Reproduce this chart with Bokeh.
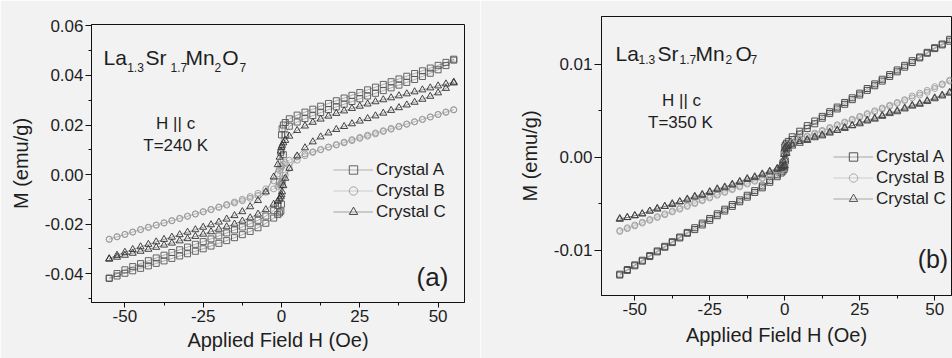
from bokeh.plotting import figure
from bokeh.layouts import row
from bokeh.models import Range1d, FixedTicker, PrintfTickFormatter, Legend, LegendItem, Label
from bokeh.embed import file_html
from bokeh.resources import INLINE

# ---------------- data ----------------
# applied field grid (Oe), shared by every branch
H = [-55, -52.5, -50, -47.5, -45, -42.5, -40, -37.5, -35, -32.5, -30,
     -27.5, -25, -22.5, -20, -17.5, -15, -12.5, -10, -7.5, -5, -2.5,
     -1.2, -0.6, -0.2, 0, 0.2, 0.6, 1.2,
     2.5, 5, 7.5, 10, 12.5, 15, 17.5, 20, 22.5, 25, 27.5,
     30, 32.5, 35, 37.5, 40, 42.5, 45, 47.5, 50, 52.5, 55]

# panel (a): T = 240 K  (ascending / descending field branches)
a_A_up = [-0.0420, -0.0410, -0.0399, -0.0389, -0.0379, -0.0369, -0.0359, -0.0349, -0.0339, -0.0329, -0.0320,
          -0.0310, -0.0300, -0.0289, -0.0278, -0.0267, -0.0255, -0.0243, -0.0230, -0.0215, -0.0197, -0.0176,
          -0.0162, -0.0155, -0.0148, -0.0120, -0.0040, 0.0080, 0.0160,
          0.0195, 0.0212, 0.0226, 0.0238, 0.0250, 0.0262, 0.0273, 0.0284, 0.0295, 0.0306, 0.0317,
          0.0328, 0.0339, 0.0350, 0.0361, 0.0372, 0.0384, 0.0396, 0.0409, 0.0423, 0.0440, 0.0462]
a_A_dn = [-0.0418, -0.0400, -0.0385, -0.0372, -0.0360, -0.0348, -0.0337, -0.0326, -0.0315, -0.0304, -0.0293,
          -0.0282, -0.0271, -0.0260, -0.0248, -0.0236, -0.0224, -0.0212, -0.0199, -0.0185, -0.0168, -0.0146,
          -0.0125, -0.0030, 0.0090, 0.0160, 0.0185, 0.0200, 0.0210,
          0.0225, 0.0240, 0.0252, 0.0264, 0.0276, 0.0287, 0.0298, 0.0309, 0.0320, 0.0331, 0.0342,
          0.0353, 0.0364, 0.0375, 0.0386, 0.0397, 0.0408, 0.0419, 0.0430, 0.0441, 0.0453, 0.0466]
a_B_up = [-0.0262, -0.0252, -0.0242, -0.0233, -0.0223, -0.0214, -0.0205, -0.0196, -0.0187, -0.0178, -0.0169,
          -0.0160, -0.0151, -0.0142, -0.0133, -0.0124, -0.0115, -0.0106, -0.0096, -0.0085, -0.0072, -0.0058,
          -0.0048, -0.0042, -0.0036, -0.0032, -0.0026, -0.0016, -0.0002,
          0.0025, 0.0058, 0.0076, 0.0089, 0.0100, 0.0111, 0.0121, 0.0131, 0.0141, 0.0150, 0.0159,
          0.0168, 0.0177, 0.0186, 0.0195, 0.0204, 0.0213, 0.0222, 0.0232, 0.0242, 0.0251, 0.0261]
a_B_dn = [-0.0261, -0.0251, -0.0242, -0.0232, -0.0222, -0.0213, -0.0204, -0.0195, -0.0186, -0.0177, -0.0168,
          -0.0159, -0.0150, -0.0141, -0.0131, -0.0121, -0.0111, -0.0100, -0.0089, -0.0076, -0.0058, -0.0025,
          0.0002, 0.0016, 0.0026, 0.0032, 0.0036, 0.0042, 0.0048,
          0.0058, 0.0072, 0.0083, 0.0092, 0.0101, 0.0110, 0.0119, 0.0128, 0.0137, 0.0146, 0.0155,
          0.0164, 0.0174, 0.0183, 0.0193, 0.0203, 0.0213, 0.0223, 0.0233, 0.0243, 0.0253, 0.0262]
a_C_up = [-0.0342, -0.0334, -0.0326, -0.0318, -0.0310, -0.0302, -0.0294, -0.0285, -0.0277, -0.0268, -0.0259,
          -0.0250, -0.0241, -0.0231, -0.0221, -0.0211, -0.0200, -0.0188, -0.0175, -0.0160, -0.0142, -0.0120,
          -0.0108, -0.0098, -0.0090, -0.0082, -0.0070, -0.0045, -0.0015,
          0.0025, 0.0075, 0.0108, 0.0132, 0.0152, 0.0168, 0.0182, 0.0194, 0.0205, 0.0216, 0.0226,
          0.0237, 0.0248, 0.0259, 0.0270, 0.0281, 0.0292, 0.0304, 0.0316, 0.0330, 0.0348, 0.0370]
a_C_dn = [-0.0340, -0.0326, -0.0314, -0.0303, -0.0292, -0.0282, -0.0272, -0.0262, -0.0253, -0.0243, -0.0233,
          -0.0223, -0.0213, -0.0203, -0.0192, -0.0180, -0.0166, -0.0150, -0.0130, -0.0105, -0.0070, -0.0010,
          0.0040, 0.0070, 0.0095, 0.0110, 0.0118, 0.0128, 0.0138,
          0.0155, 0.0178, 0.0196, 0.0211, 0.0224, 0.0236, 0.0247, 0.0257, 0.0267, 0.0276, 0.0285,
          0.0294, 0.0302, 0.0310, 0.0318, 0.0326, 0.0334, 0.0342, 0.0350, 0.0358, 0.0366, 0.0373]

# panel (b): T = 350 K
b_A_up = [-0.0127, -0.0122, -0.0117, -0.0112, -0.0107, -0.0102, -0.0097, -0.0092, -0.0087, -0.0082, -0.0078,
          -0.0073, -0.0068, -0.0063, -0.0058, -0.0053, -0.0048, -0.0043, -0.0038, -0.0033, -0.0027, -0.0021,
          -0.0017, -0.0015, -0.0013, -0.0011, -0.0004, 0.0006, 0.0013,
          0.0019, 0.0025, 0.0031, 0.0036, 0.0042, 0.0047, 0.0052, 0.0057, 0.0062, 0.0067, 0.0072,
          0.0077, 0.0082, 0.0087, 0.0092, 0.0097, 0.0102, 0.0107, 0.0112, 0.0117, 0.0121, 0.0125]
b_A_dn = [-0.0126, -0.0121, -0.0116, -0.0111, -0.0106, -0.0101, -0.0096, -0.0091, -0.0086, -0.0081, -0.0076,
          -0.0071, -0.0066, -0.0061, -0.0056, -0.0051, -0.0046, -0.0041, -0.0036, -0.0031, -0.0025, -0.0019,
          -0.0013, -0.0006, 0.0004, 0.0011, 0.0013, 0.0015, 0.0017,
          0.0022, 0.0028, 0.0034, 0.0039, 0.0044, 0.0049, 0.0054, 0.0059, 0.0064, 0.0069, 0.0074,
          0.0079, 0.0084, 0.0089, 0.0094, 0.0099, 0.0104, 0.0108, 0.0113, 0.0118, 0.0122, 0.0127]
b_B_up = [-0.0080, -0.0077, -0.0074, -0.0071, -0.0068, -0.0065, -0.0062, -0.0059, -0.0056, -0.0053, -0.0050,
          -0.0047, -0.0044, -0.0041, -0.0038, -0.0035, -0.0032, -0.0029, -0.0026, -0.0023, -0.0020, -0.0016,
          -0.0014, -0.0013, -0.0012, -0.0010, -0.0004, 0.0004, 0.0010,
          0.0014, 0.0018, 0.0022, 0.0025, 0.0028, 0.0031, 0.0034, 0.0037, 0.0040, 0.0043, 0.0046,
          0.0049, 0.0052, 0.0055, 0.0058, 0.0061, 0.0064, 0.0067, 0.0070, 0.0074, 0.0078, 0.0082]
b_B_dn = [-0.0079, -0.0076, -0.0073, -0.0070, -0.0067, -0.0064, -0.0061, -0.0058, -0.0055, -0.0052, -0.0049,
          -0.0046, -0.0043, -0.0040, -0.0037, -0.0034, -0.0031, -0.0028, -0.0025, -0.0022, -0.0018, -0.0014,
          -0.0010, -0.0004, 0.0004, 0.0010, 0.0012, 0.0013, 0.0014,
          0.0016, 0.0020, 0.0023, 0.0026, 0.0029, 0.0032, 0.0035, 0.0038, 0.0041, 0.0044, 0.0047,
          0.0050, 0.0053, 0.0056, 0.0059, 0.0062, 0.0066, 0.0069, 0.0072, 0.0076, 0.0079, 0.0083]
b_C_up = [-0.0067, -0.0065, -0.0063, -0.0061, -0.0058, -0.0056, -0.0053, -0.0051, -0.0048, -0.0046, -0.0043,
          -0.0041, -0.0038, -0.0035, -0.0033, -0.0030, -0.0027, -0.0024, -0.0022, -0.0019, -0.0016, -0.0013,
          -0.0012, -0.0011, -0.0010, -0.0009, -0.0003, 0.0004, 0.0009,
          0.0012, 0.0015, 0.0018, 0.0021, 0.0023, 0.0026, 0.0029, 0.0031, 0.0034, 0.0036, 0.0039,
          0.0041, 0.0044, 0.0047, 0.0049, 0.0052, 0.0055, 0.0057, 0.0060, 0.0063, 0.0066, 0.0069]
b_C_dn = [-0.0066, -0.0065, -0.0063, -0.0061, -0.0058, -0.0055, -0.0053, -0.0050, -0.0048, -0.0045, -0.0042,
          -0.0040, -0.0037, -0.0034, -0.0032, -0.0029, -0.0026, -0.0023, -0.0021, -0.0018, -0.0015, -0.0012,
          -0.0009, -0.0004, 0.0003, 0.0009, 0.0011, 0.0012, 0.0013,
          0.0014, 0.0017, 0.0019, 0.0022, 0.0024, 0.0027, 0.0029, 0.0032, 0.0034, 0.0037, 0.0040,
          0.0042, 0.0045, 0.0048, 0.0050, 0.0053, 0.0056, 0.0058, 0.0061, 0.0064, 0.0067, 0.0070]

x_ticks = [-50, -25, 0, 25, 50]
x_minor = [-37.5, -12.5, 12.5, 37.5]
a_y_ticks = [-0.04, -0.02, 0.00, 0.02, 0.04, 0.06]
a_y_minor = [-0.05, -0.03, -0.01, 0.01, 0.03, 0.05]
b_y_ticks = [-0.01, 0.00, 0.01]
b_y_minor = [-0.005, 0.005]
crystals = ["Crystal A", "Crystal B", "Crystal C"]

# ---------------- style ----------------
FONT = "Liberation Sans"
BG = "#f2f2f2"
TXT = "#1e1e1e"


def style_axes(p, yticks, yminor, tick_len_y, xstand, ystand, title_x_stand, title_y_stand):
    p.xaxis.ticker = FixedTicker(ticks=x_ticks, minor_ticks=x_minor)
    p.yaxis.ticker = FixedTicker(ticks=yticks, minor_ticks=yminor)
    p.xaxis.formatter = PrintfTickFormatter(format="%d")
    p.yaxis.formatter = PrintfTickFormatter(format="%.2f")
    for ax in (p.xaxis, p.yaxis):
        ax.axis_line_color = "#111111"
        ax.major_tick_line_color = "#111111"
        ax.minor_tick_line_color = "#111111"
        ax.major_tick_in = 0
        ax.minor_tick_in = 0
        ax.minor_tick_out = 3
        ax.major_label_text_font = FONT
        ax.major_label_text_font_size = "17px"
        ax.major_label_text_color = TXT
        ax.axis_label_text_font = FONT
        ax.axis_label_text_font_size = "20px"
        ax.axis_label_text_font_style = "normal"
        ax.axis_label_text_color = TXT
    p.xaxis.major_tick_out = 5
    p.yaxis.major_tick_out = tick_len_y
    p.xaxis.major_label_standoff = xstand
    p.yaxis.major_label_standoff = ystand
    p.xaxis.axis_label_standoff = title_x_stand
    p.yaxis.axis_label_standoff = title_y_stand
    p.xgrid.visible = False
    p.ygrid.visible = False
    p.outline_line_color = "#111111"
    p.outline_line_width = 1
    p.background_fill_color = BG
    p.border_fill_color = BG


def draw_loops(p, series, colors, legend_loc, pitch):
    markers = ["square", "circle", "triangle"]
    sizes = [6, 6, 7]
    items = []
    for (up, dn), col, mk, sz, name in zip(series, colors, markers, sizes, crystals):
        hx = H + H[::-1]
        my = up + dn[::-1]
        ln = p.line(hx, my, line_color=col, line_width=0.7, line_alpha=0.6)
        sc = p.scatter(hx, my, marker=mk, size=sz, line_color=col, line_width=0.9,
                       fill_alpha=0)
        items.append(LegendItem(label=name, renderers=[ln, sc]))
    leg = Legend(items=items, location=legend_loc, glyph_width=40, glyph_height=pitch,
                 label_height=pitch, spacing=0, padding=0, margin=0, label_standoff=3,
                 border_line_alpha=0, background_fill_alpha=0,
                 label_text_font=FONT, label_text_font_size="17px",
                 label_text_color=TXT)
    p.add_layout(leg)


def formula(p, pieces, size_main, size_sub):
    for txt, x, y, sub in pieces:
        p.add_layout(Label(x=x, y=y, text=txt, text_font=FONT,
                           text_font_size=size_sub if sub else size_main,
                           text_baseline="alphabetic", text_align="left",
                           text_color=TXT))


def center_text(p, txt, x, y, size):
    p.add_layout(Label(x=x, y=y, text=txt, text_font=FONT, text_font_size=size,
                       text_baseline="alphabetic", text_align="center",
                       text_color=TXT))


# ---------------- panel (a) ----------------
pa = figure(width=480, height=358, output_backend="svg", toolbar_location=None,
            x_range=Range1d(-60.66, 58.43), y_range=Range1d(-0.0517, 0.0606),
            min_border_left=91, min_border_right=16, min_border_top=24, min_border_bottom=56,
            x_axis_label="Applied Field H (Oe)", y_axis_label="M (emu/g)")
pa.frame_align = False
style_axes(pa, a_y_ticks, a_y_minor, 6, 2, 2, 4, 10)
draw_loops(pa, [(a_A_up, a_A_dn), (a_B_up, a_B_dn), (a_C_up, a_C_dn)],
           ["#555555", "#9a9a9a", "#303030"], (242, 80), 21)
formula(pa, [("La", -56.83, 0.04715, False), ("1.3", -49.27, 0.04335, True),
             ("Sr", -43.42, 0.04715, False), ("1.7", -35.44, 0.04335, True),
             ("Mn", -30.65, 0.04715, False), ("2", -21.40, 0.04335, True),
             ("O", -18.93, 0.04715, False), ("7", -13.41, 0.04335, True)], "21px", "12px")
center_text(pa, "H || c", -33.8, 0.0205, "17px")
center_text(pa, "T=240 K", -33.8, 0.0117, "17px")
center_text(pa, "(a)", 48.2, -0.0414, "26px")

# ---------------- panel (b) ----------------
pb = figure(width=472, height=358, output_backend="svg", toolbar_location=None,
            x_range=Range1d(-61.1, 55.6), y_range=Range1d(-0.0149, 0.01516),
            min_border_left=121, min_border_right=1, min_border_top=16, min_border_bottom=63,
            x_axis_label="Applied Field H (Oe)", y_axis_label="M (emu/g)")
pb.frame_align = False
style_axes(pb, b_y_ticks, b_y_minor, 7, 2, 2, 6, 10)
draw_loops(pb, [(b_A_up, b_A_dn), (b_B_up, b_B_dn), (b_C_up, b_C_dn)],
           ["#404040", "#a0a0a0", "#404040"], (232, 86), 21)
formula(pb, [("La", -56.43, 0.011142, False), ("1.3", -48.77, 0.010496, True),
             ("Sr", -42.43, 0.011142, False), ("1.7", -35.10, 0.010496, True),
             ("Mn", -29.77, 0.011142, False), ("2", -19.77, 0.010496, True),
             ("O", -16.43, 0.011142, False), ("7", -11.43, 0.010496, True)], "21px", "12px")
center_text(pb, "H || c", -34.4, 0.00611, "17px")
center_text(pb, "T=350 K", -34.8, 0.00377, "17px")
center_text(pb, "(b)", 49.4, -0.01092, "25px")

layout = row(pa, pb)
open("out.html", "w").write(file_html(layout, INLINE))
